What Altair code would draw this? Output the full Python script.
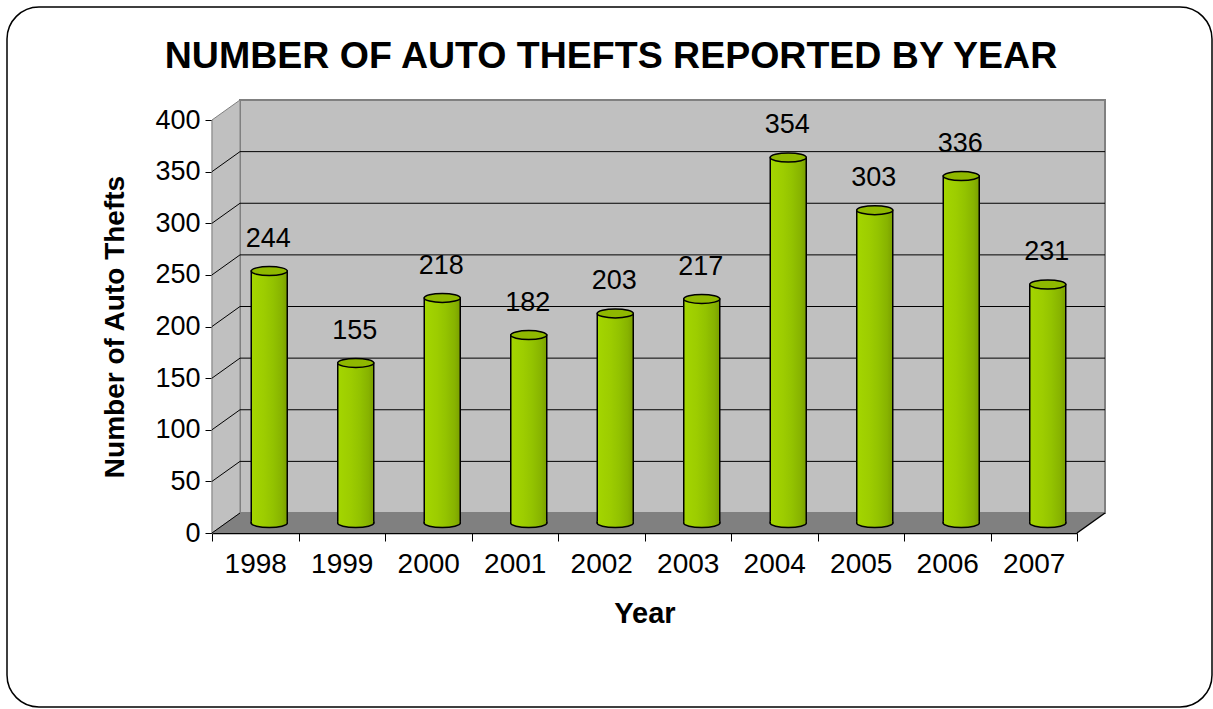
import altair as alt
import pandas as pd

# ---- data ----
YEARS = ["1998", "1999", "2000", "2001", "2002", "2003", "2004", "2005", "2006", "2007"]
THEFTS = [244, 155, 218, 182, 203, 217, 354, 303, 336, 231]
Y_TICKS = [0, 50, 100, 150, 200, 250, 300, 350, 400]
TITLE = "NUMBER OF AUTO THEFTS REPORTED BY YEAR"
X_TITLE = "Year"
Y_TITLE = "Number of Auto Thefts"

# ---- layout / style constants ----
W, H = 865, 413          # plot area
DX, DY = 28, 20          # 3-D depth of the walls (px)
YMAX = 400
DYU = DY * YMAX / H      # depth expressed in y-units
FONT = "Liberation Sans"
BAR_W = 36

df = pd.DataFrame({"year": YEARS, "thefts": THEFTS})
grid_df = pd.DataFrame({"v": Y_TICKS[1:-1]})
diag_df = pd.DataFrame({"v": Y_TICKS[:-1]})
side_df = pd.DataFrame({"px": [0, DX], "lo": [0, DYU], "hi": [YMAX, YMAX + DYU]})
floor_df = pd.DataFrame({"px": [0, DX, W, W + DX],
                         "lo": [0, 0, 0, DYU],
                         "hi": [0, DYU, DYU, DYU]})
one = alt.Data(values=[{}])
title_df = pd.DataFrame({"t": [TITLE]})

yscale = alt.Scale(domain=[0, YMAX], nice=False, zero=True)
pxscale = alt.Scale(domain=[0, W], nice=False, zero=False)

# rounded frame around the whole picture
frame = alt.Chart(one).mark_rect(
    cornerRadius=32, fill="white", fillOpacity=0, stroke="black", strokeWidth=1.5
).encode(x=alt.value(-205), x2=alt.value(1000), y=alt.value(-113), y2=alt.value(587))

# chart title
title = alt.Chart(title_df).mark_text(
    font=FONT, fontSize=37.5, fontWeight="bold", color="black",
    align="center", baseline="alphabetic"
).encode(x=alt.value(399), y=alt.value(-52), text="t:N")

# back wall
back = alt.Chart(one).mark_rect(
    fill="#c0c0c0", stroke="#808080", strokeWidth=2, yOffset=-DY, y2Offset=-DY
).encode(x=alt.value(DX), x2=alt.value(W + DX),
         y=alt.datum(YMAX, scale=yscale), y2=alt.datum(0))

# side wall
side = alt.Chart(side_df).mark_area(
    fill="#c0c0c0", stroke="#808080", strokeWidth=1, opacity=1
).encode(x=alt.X("px:Q", scale=pxscale, axis=None),
         y=alt.Y("lo:Q", scale=yscale), y2="hi:Q")

# floor
floor = alt.Chart(floor_df).mark_area(
    fill="#808080", opacity=1
).encode(x=alt.X("px:Q", scale=pxscale, axis=None),
         y=alt.Y("lo:Q", scale=yscale), y2="hi:Q")

# gridlines on back wall
grid = alt.Chart(grid_df).mark_rule(
    color="black", strokeWidth=1, yOffset=-DY
).encode(x=alt.value(DX), x2=alt.value(W + DX), y=alt.Y("v:Q", scale=yscale))

# diagonal gridlines on side wall
diag = alt.Chart(diag_df).mark_rule(
    color="black", strokeWidth=1, y2Offset=-DY
).encode(x=alt.value(0), x2=alt.value(DX), y=alt.Y("v:Q", scale=yscale), y2="v:Q")

# floor front-right diagonal edge
fr_edge = alt.Chart(one).mark_rule(
    color="black", strokeWidth=1.5, y2Offset=-DY
).encode(x=alt.value(W), x2=alt.value(W + DX),
         y=alt.datum(0, scale=yscale), y2=alt.datum(0))

grad = alt.LinearGradient(
    gradient="linear", x1=0, x2=1, y1=0, y2=0,
    stops=[alt.GradientStop(color="#a4d600", offset=0),
           alt.GradientStop(color="#9dcd00", offset=0.35),
           alt.GradientStop(color="#93c300", offset=0.6),
           alt.GradientStop(color="#87b300", offset=0.85),
           alt.GradientStop(color="#7a9f00", offset=1)])

xenc = alt.X("year:N", scale=alt.Scale(paddingInner=0, paddingOuter=0),
             sort=YEARS,
             axis=alt.Axis(title=X_TITLE, labelAngle=0, tickBand="extent",
                           labelFontSize=28, labelFont=FONT, labelColor="black",
                           labelPadding=9, tickSize=8, tickColor="black",
                           domainColor="black", domainWidth=1.5,
                           titleFont=FONT, titleFontSize=29, titleFontWeight="bold",
                           titleColor="black", titlePadding=21, grid=False))
yenc = alt.Y("thefts:Q", scale=yscale,
             axis=alt.Axis(title=Y_TITLE, values=Y_TICKS, grid=False,
                           labelFontSize=27, labelFont=FONT, labelColor="black",
                           labelPadding=5, tickSize=7, tickColor="black",
                           domainColor="#808080", domainWidth=1.5,
                           titleFont=FONT, titleFontSize=28, titleFontWeight="bold",
                           titleColor="black", titlePadding=25))

BOTTOM_PATH = "M-1,-0.09 L-1,0 A1,0.25 0 0,0 1,0 L1,-0.09"
TOP_PATH = "M-1,0 A1,0.25 0 1,1 1,0 A1,0.25 0 1,1 -1,0 Z"

bars = alt.Chart(df).mark_bar(
    width=BAR_W, fill=grad, stroke="black", strokeWidth=1.5,
    xOffset=DX / 2, yOffset=-DY / 2, y2Offset=-DY / 2
).encode(x=xenc, y=yenc, y2=alt.datum(0))

bottoms = alt.Chart(df).mark_point(
    shape=BOTTOM_PATH, size=BAR_W ** 2, filled=True, fill=grad, fillOpacity=1,
    opacity=1, stroke="black", strokeWidth=1.5, xOffset=DX / 2, yOffset=-DY / 2
).encode(x=alt.X("year:N", sort=YEARS), y=alt.Y("base:Q", scale=yscale)
         ).transform_calculate(base="0")

tops = alt.Chart(df).mark_point(
    shape=TOP_PATH, size=BAR_W ** 2, filled=True, fill="#8fb800", fillOpacity=1,
    opacity=1, stroke="black", strokeWidth=1.5, xOffset=DX / 2, yOffset=-DY / 2
).encode(x=alt.X("year:N", sort=YEARS), y=alt.Y("thefts:Q", scale=yscale))

labels = alt.Chart(df).mark_text(
    font=FONT, fontSize=27, color="black", baseline="alphabetic",
    dx=13, dy=-DY / 2 - 24
).encode(x=alt.X("year:N", sort=YEARS), y=alt.Y("thefts:Q", scale=yscale),
         text="thefts:Q")

chart = alt.layer(
    frame, title, back, side, floor, grid, diag, fr_edge, bars, bottoms, tops, labels
).resolve_scale(x="independent").properties(
    width=W, height=H,
    autosize=alt.AutoSizeParams(type="none"),
    padding={"left": 212, "top": 120, "right": 136, "bottom": 176},
).configure_view(stroke=None).configure(background="white")

chart.save("out.html", embed_options={"renderer": "svg", "actions": False})
